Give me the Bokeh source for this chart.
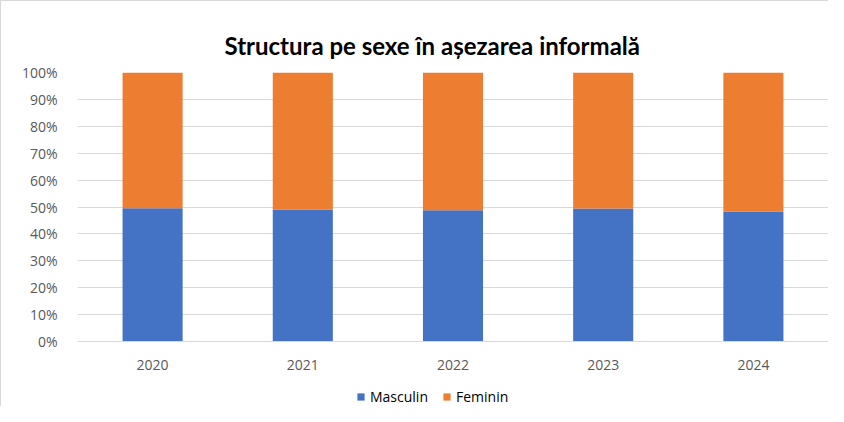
from bokeh.plotting import figure
from bokeh.layouts import column
from bokeh.models import Legend, LegendItem, NumeralTickFormatter, FixedTicker
from bokeh.embed import file_html
from bokeh.resources import INLINE

years = ["2020", "2021", "2022", "2023", "2024"]
masculin = [0.495, 0.490, 0.488, 0.494, 0.483]
feminin = [1 - m for m in masculin]
series = ["Masculin", "Feminin"]
colors = ["#4472C4", "#ED7D31"]
y_ticks = [0, 0.1, 0.2, 0.3, 0.4, 0.5, 0.6, 0.7, 0.8, 0.9, 1.0]
title_text = "Structura pe sexe în așezarea informală"

data = {"years": years, "Masculin": masculin, "Feminin": feminin}

p = figure(x_range=years, y_range=(0, 1.0), width=828, height=384,
           output_backend="svg", toolbar_location=None, title=title_text,
           min_border_left=76, min_border_right=1, min_border_top=71, min_border_bottom=44)

r = p.vbar_stack(series, x="years", width=0.4, color=colors, source=data, line_width=0)

p.title.align = "left"
p.title.offset = 147
p.title.vertical_align = "middle"
p.title.standoff = 23
p.title.text_font = "Lato"
p.title.text_font_style = "bold"
p.title.text_font_size = "24px"
p.title.text_color = "#000000"

p.outline_line_color = None
p.xgrid.grid_line_color = None
p.ygrid.grid_line_color = "#d9d9d9"
p.ygrid.grid_line_width = 1

p.yaxis.ticker = FixedTicker(ticks=y_ticks)
p.yaxis.formatter = NumeralTickFormatter(format="0%")
for ax in (p.xaxis, p.yaxis):
    ax.major_tick_line_color = None
    ax.minor_tick_line_color = None
    ax.major_label_text_font = "Open Sans"
    ax.major_label_text_font_size = "14px"
    ax.major_label_text_color = "#595959"
p.yaxis.axis_line_color = None
p.xaxis.axis_line_color = "#d9d9d9"
p.xaxis.major_label_standoff = 12
p.yaxis.major_label_standoff = 14
p.styles = {"border-top": "1px solid #d9d9d9", "border-left": "1px solid #d9d9d9"}

# legend strip: same series drawn out of view, only the legend is visible
lg = figure(x_range=years, y_range=(2, 3), width=828, height=22,
            output_backend="svg", toolbar_location=None,
            min_border_left=0, min_border_right=0, min_border_top=0, min_border_bottom=0)
lr = lg.vbar_stack(series, x="years", width=0.4, color=colors, source=data, line_width=0)
lg.axis.visible = False
lg.grid.visible = False
lg.outline_line_color = None
legend = Legend(items=[LegendItem(label=s, renderers=[rr]) for s, rr in zip(series, lr)],
                orientation="horizontal", location=(279, 0),
                glyph_width=9, glyph_height=9, label_text_font="Open Sans",
                label_text_font_size="14px", label_text_color="#000000",
                border_line_color=None, background_fill_alpha=0, spacing=14, label_standoff=5,
                margin=0, padding=2)
lg.add_layout(legend, "center")
lg.styles = {"border-left": "1px solid #d9d9d9"}

layout = column(p, lg, spacing=0)
open("out.html", "w").write(file_html(layout, INLINE))
